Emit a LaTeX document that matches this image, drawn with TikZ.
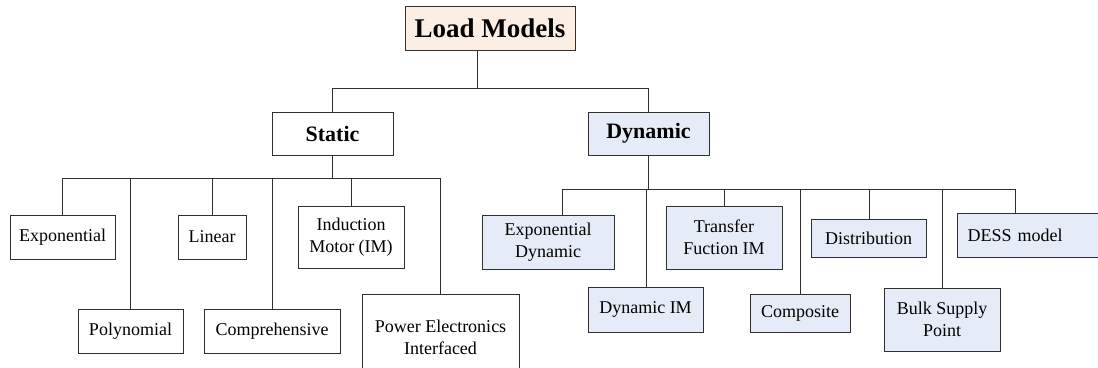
\documentclass[tikz,border=0pt]{standalone}
\usepackage{fontspec}
\setmainfont{Liberation Serif}
\definecolor{peach}{HTML}{FDEEE3}
\definecolor{lblue}{HTML}{E6ECF7}
\definecolor{edge}{HTML}{303030}
\begin{document}
\begin{tikzpicture}[x=1pt,y=-1pt, line width=1pt,
  conn/.style={draw=edge, line width=1pt},
  bx/.style={draw=edge, line width=1pt, fill=white, inner sep=0pt, align=center,
    font=\fontsize{18}{22}\selectfont},
  sbox/.style={bx},
  dbox/.style={bx, fill=lblue},
  lvl/.style={bx, font=\fontsize{22}{26}\selectfont\bfseries}
]
\useasboundingbox (0,0) rectangle (1098,367);
\clip (0,0) rectangle (1098,367);
\fill[white] (0,0) rectangle (1098,367);

% root
\node[bx, fill=peach, font=\fontsize{27}{30}\selectfont\bfseries,
  minimum width=170, minimum height=44] (lm) at (490,28) {Load Models};
\node[lvl, minimum width=121, minimum height=43] (st) at (332.5,133.5) {Static};
\node[lvl, fill=lblue, minimum width=121, minimum height=43] (dy) at (648.5,133.5) {Dynamic};

% static children
\node[sbox, minimum width=105, minimum height=44] (exp) at (62.5,237) {Exponential};
\node[sbox, minimum width=68, minimum height=44] (lin) at (212,237) {Linear};
\node[sbox, minimum width=106, minimum height=62] (im) at (351,237) {Induction\\Motor (IM)};
\node[sbox, minimum width=105, minimum height=44] (poly) at (130.5,331) {Polynomial};
\node[sbox, minimum width=136, minimum height=44] (comp) at (272,331) {Comprehensive};
\node[sbox, minimum width=157, minimum height=86] (pe) at (440.5,337) {Power Electronics\\Interfaced};

% dynamic children
\node[dbox, minimum width=132, minimum height=54] (ed) at (548,242) {Exponential\\Dynamic};
\node[dbox, minimum width=115, minimum height=45] (dim) at (645.5,309.5) {Dynamic IM};
\node[dbox, minimum width=116, minimum height=63] (tf) at (724,237.5) {Transfer\\Fuction IM};
\node[dbox, minimum width=100, minimum height=38] (cmp) at (800,313) {Composite};
\node[dbox, minimum width=115, minimum height=38] (dist) at (868.5,238) {Distribution};
\node[dbox, minimum width=116, minimum height=63] (bulk) at (942,319.5) {Bulk Supply\\Point};
\node[dbox, anchor=west, text width=130, align=left, inner xsep=10pt,
  minimum height=44] (dess) at (957,235) {DESS model};

% top connectors
\coordinate (rj) at (477,88);
\coordinate (rl) at (332.5,88);
\coordinate (rr) at (648.5,88);
\draw[conn] (lm.south -| rj) -- (rj);
\draw[conn] (rl) -- (rr);
\draw[conn] (rl) -- (st.north);
\draw[conn] (rr) -- (dy.north);

% static bus
\coordinate (s1) at (62,178);
\coordinate (s2) at (130,178);
\coordinate (s3) at (212,178);
\coordinate (s4) at (272,178);
\coordinate (s5) at (351,178);
\coordinate (s6) at (440,178);
\draw[conn] (st.south) -- (st.south |- s1);
\draw[conn] (s1) -- (s6);
\draw[conn] (s1) -- (exp.north -| s1);
\draw[conn] (s2) -- (poly.north -| s2);
\draw[conn] (s3) -- (lin.north -| s3);
\draw[conn] (s4) -- (comp.north -| s4);
\draw[conn] (s5) -- (im.north -| s5);
\draw[conn] (s6) -- (pe.north -| s6);

% dynamic bus
\coordinate (d1) at (562,189);
\coordinate (d2) at (646,189);
\coordinate (d3) at (724,189);
\coordinate (d4) at (800,189);
\coordinate (d5) at (869,189);
\coordinate (d6) at (942,189);
\coordinate (d7) at (1015,189);
\draw[conn] (dy.south) -- (dy.south |- d1);
\draw[conn] (d1) -- (d7);
\draw[conn] (d1) -- (ed.north -| d1);
\draw[conn] (d2) -- (dim.north -| d2);
\draw[conn] (d3) -- (tf.north -| d3);
\draw[conn] (d4) -- (cmp.north -| d4);
\draw[conn] (d5) -- (dist.north -| d5);
\draw[conn] (d6) -- (bulk.north -| d6);
\draw[conn] (d7) -- (dess.north -| d7);
\end{tikzpicture}
\end{document}
